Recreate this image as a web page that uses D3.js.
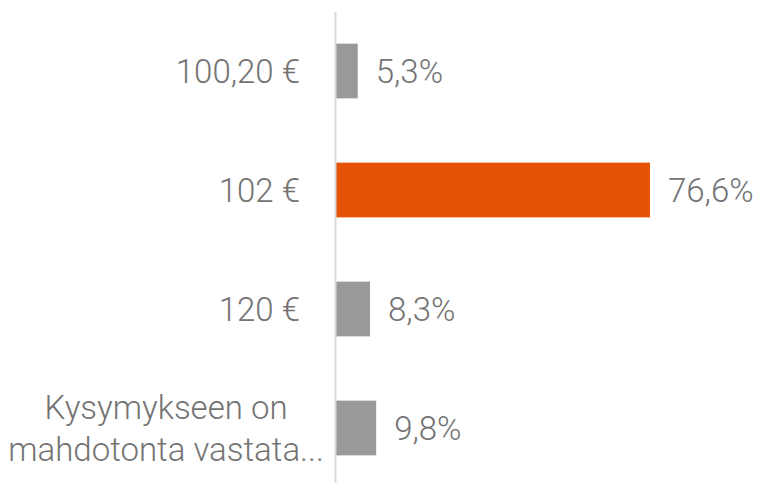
<!DOCTYPE html>
<meta charset="utf-8">
<script src="https://d3js.org/d3.v7.min.js"></script>
<style>
  body { margin: 0; background: #fff; }
  text { font-family: Roboto, sans-serif; font-weight: 300; fill: #737373; }
</style>
<div id="my_dataviz"></div>
<script>
// data
var categories = ["100,20 €", "102 €", "120 €", "Kysymykseen on mahdotonta vastata..."];
var labelLines = [["100,20 €"], ["102 €"], ["120 €"], ["Kysymykseen on", "mahdotonta vastata..."]];
var values = [5.3, 76.6, 8.3, 9.8];
var valueLabels = ["5,3%", "76,6%", "8,3%", "9,8%"];
var highlight = "102 €";

var width = 759, height = 483;

var svg = d3.select("#my_dataviz")
  .append("svg")
    .attr("width", width)
    .attr("height", height);

// scales
var x = d3.scaleLinear()
  .domain([0, d3.max(values)])
  .range([336, 650]);

var y = d3.scaleBand()
  .domain(categories)
  .range([11.5, 487.5])
  .paddingInner(0.54)
  .paddingOuter(0.27);

// bars
svg.selectAll("rect.bar")
  .data(values)
  .enter()
  .append("rect")
    .attr("class", "bar")
    .attr("x", x(0))
    .attr("y", function(d, i) { return y(categories[i]); })
    .attr("width", function(d) { return x(d) - x(0); })
    .attr("height", y.bandwidth())
    .attr("fill", function(d, i) { return categories[i] === highlight ? "#e35205" : "#999999"; });

// axis line
svg.append("line")
  .attr("x1", x(0) - 0.5).attr("x2", x(0) - 0.5)
  .attr("y1", 12).attr("y2", height)
  .attr("stroke", "#d9d9d9")
  .attr("stroke-width", 2);

// value labels
svg.selectAll("text.val")
  .data(values)
  .enter()
  .append("text")
    .attr("class", "val")
    .attr("x", function(d) { return x(d) + 18; })
    .attr("y", function(d, i) { return y(categories[i]) + y.bandwidth() / 2; })
    .attr("dy", "0.35em")
    .style("font-size", "33px")
    .text(function(d, i) { return valueLabels[i]; });

// category labels
var lineH = 42;
labelLines.forEach(function(lines, i) {
  var cy = y(categories[i]) + y.bandwidth() / 2;
  var multi = lines.length > 1;
  var t = svg.append("text")
    .attr("text-anchor", multi ? "middle" : "end")
    .style("font-size", "33px");
  lines.forEach(function(l, j) {
    t.append("tspan")
      .attr("x", multi ? 166 : 300)
      .attr("y", cy + (j - (lines.length - 1) / 2) * lineH)
      .attr("dy", "0.35em")
      .text(l);
  });
});
</script>
